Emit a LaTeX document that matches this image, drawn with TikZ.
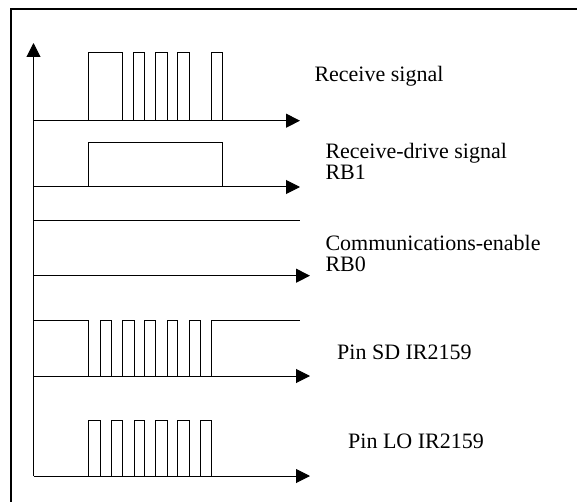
\documentclass[tikz,border=0pt]{standalone}
\usepackage{fontspec}
\setmainfont{Liberation Serif}
\usepackage{tikz}
\usetikzlibrary{arrows.meta}

\begin{document}
\begin{tikzpicture}[
		x=0.5pt, y=-0.5pt,
		line width=0.5pt,
		every node/.style={inner sep=0pt, font=\fontsize{11}{11}\selectfont},
		frame/.style={line width=1pt},
		axis/.style={-{Triangle[length=7pt, width=7pt]}},
		pulse/.style={line join=miter},
		desc/.style={anchor=base west, align=left}
		]
	
	\useasboundingbox (0, 0) rectangle (577, 502);
	
	% Frame
	\draw[frame] (577, 9) -- (11, 9) -- (11, 502);
	
	% Vertical axis
	\draw[axis] (33.5, 476) -- (33.5, 43);
	
	% Receive signal
	\draw[axis] (33.5, 120.7) -- (300, 120.7);
	\foreach \a/\b in {88.7/122, 133.7/144.7, 155.7/167, 177.7/189.3, 211.3/222.7}{
		\draw[pulse] (\a, 120.7) -- (\a, 53) -- (\b, 53) -- (\b, 120.7);
	}
	\node[desc] (rx) at (314, 81.7) {Receive signal};
	
	% Receive-drive signal RB1 (base = last line)
	\draw[axis] (33.5, 187) -- (300, 187);
	\draw[pulse] (88.7, 187) -- (88.7, 142.3) -- (222.7, 142.3) -- (222.7, 187);
	\node[desc, font=\fontsize{11}{8.8}\selectfont] (rb1) at (325, 179.3) {Receive-drive signal\\RB1};
	
	% Communications-enable RB0
	\draw (33.5, 220.3) -- (300, 220.3);
	\draw[axis] (33.5, 275.7) -- (310, 275.7);
	\node[desc, font=\fontsize{11}{10.5}\selectfont] (rb0) at (325, 271) {Communications-enable\\RB0};
	
	% Pin SD
	\draw[axis] (33.5, 376) -- (310, 376);
	\draw[pulse] (33.5, 320.3) -- (88.7, 320.3) -- (88.7, 376);
	\foreach \a/\b in {100.3/111.3, 122/134, 144.7/155.7, 167/177.7, 189.3/200.3}{
		\draw[pulse] (\a, 376) -- (\a, 320.3) -- (\b, 320.3) -- (\b, 376);
	}
	\draw[pulse] (211.3, 376) -- (211.3, 320.3) -- (300, 320.3);
	\node[desc] (sd) at (336.7, 359.3) {Pin SD IR2159};
	
	% Pin LO
	\draw[axis] (33.5, 476) -- (310, 476);
	\foreach \a/\b in {88.7/100.3, 111.3/122, 134/144.7, 155.7/167, 177.7/189.3, 200.3/211.3}{
		\draw[pulse] (\a, 476) -- (\a, 420.3) -- (\b, 420.3) -- (\b, 476);
	}
	\node[desc] (lo) at (347.7, 448.3) {Pin LO IR2159};
	
\end{tikzpicture}
\end{document}
